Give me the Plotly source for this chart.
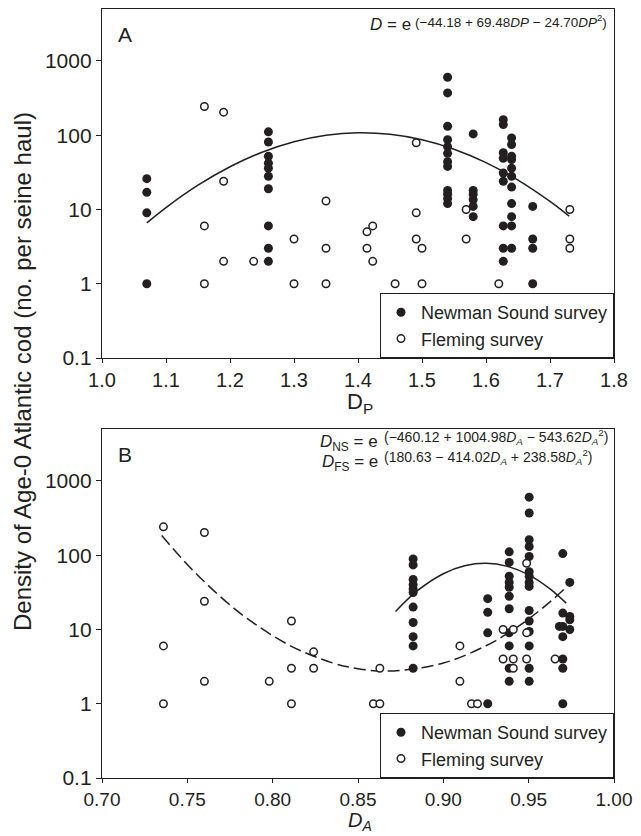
import plotly.graph_objects as go

# ---------------- Panel A data (D_P) ----------------
a_ns_x = [1.07]*4 + [1.26]*10 + [1.54]*12 + [1.58]*6 + [1.627]*9 + [1.64]*11 + [1.673]*4
a_ns_y = [26, 17, 9, 1,
          111, 81, 52, 42, 36, 28, 19, 6, 3, 2,
          603, 371, 132, 87, 70, 57, 44, 38, 18, 16, 14, 12,
          104, 18, 16, 13.5, 11, 8,
          162, 139, 58, 49, 24, 6, 3, 2, 31,
          92, 75, 52, 47, 36, 20, 12, 8, 6, 3, 28,
          11, 4, 3, 1]
a_fs_x = [1.16]*3 + [1.19]*3 + [1.237] + [1.30]*2 + [1.35]*3 + [1.414]*2 + [1.423]*2 + \
         [1.458] + [1.491]*3 + [1.50]*2 + [1.569]*2 + [1.62] + [1.731]*3
a_fs_y = [243, 6, 1,
          204, 24, 2,
          2,
          4, 1,
          13, 3, 1,
          5, 3,
          6, 2,
          1,
          79, 9, 4,
          3, 1,
          10, 4,
          1,
          10, 4, 3]
a_fit_x = [1.07, 1.10, 1.15, 1.20, 1.25, 1.30, 1.35, 1.40, 1.45, 1.50, 1.55, 1.60, 1.65, 1.70, 1.73]
a_fit_y = [6.59, 10.6, 21.2, 37.6, 58.9, 81.5, 99.7, 107.8, 102.9, 86.9, 64.8, 42.8, 24.9, 12.85, 8.13]

# ---------------- Panel B data (D_A) ----------------
b_ns_x = [0.8823]*11 + [0.926]*4 + [0.9386]*11 + [0.9503]*15 + [0.970]*7 + [0.968] + [0.9741]*4
b_ns_y = [89, 74, 47, 40, 35, 31.5, 20, 12.4, 8, 6, 3,
          26, 17, 9, 1,
          111, 80, 52, 43, 37, 28, 19, 9, 6, 3, 2,
          604, 370, 162, 131, 96, 60, 52, 43, 38, 18, 13, 9.4, 6, 3, 2,
          105, 16.6, 11, 8, 4, 3, 1,
          11,
          43, 15, 13.5, 10]
b_fs_x = [0.736]*3 + [0.760]*3 + [0.798] + [0.811]*3 + [0.824]*2 + [0.859] + [0.8628]*2 + \
         [0.9097]*2 + [0.9165] + [0.920] + [0.935]*2 + [0.941]*3 + [0.9488]*3 + [0.9655]
b_fs_y = [241, 6, 1,
          202, 24, 2,
          2,
          13, 3, 1,
          5, 3,
          1,
          3, 1,
          6, 2,
          1,
          1,
          10, 4,
          10, 4, 3,
          78, 9, 4,
          4]
b_nsfit_x = [0.872, 0.885, 0.90, 0.9125, 0.925, 0.9375, 0.95, 0.9625, 0.972]
b_nsfit_y = [17.5, 33.5, 56.3, 71.9, 77.6, 70.7, 54.3, 35.2, 22.6]
b_fsfit_x = [0.735, 0.7475, 0.76, 0.7725, 0.785, 0.81, 0.835, 0.85, 0.8677, 0.90, 0.925, 0.9375, 0.95, 0.9625, 0.972]
b_fsfit_y = [183.6, 86.3, 43.8, 23.9, 14.06, 6.09, 3.55, 2.966, 2.75, 3.53, 6.03, 8.81, 13.86, 23.5, 36.9]

y_tickvals = [0.1, 1, 10, 100, 1000]
y_ticktext = ["0.1", "1", "10", "100", "1000"]

INK = "#231f20"
FONT = "Liberation Sans, Arial, Helvetica, sans-serif"

filled = dict(symbol="circle", size=9, color=INK, line=dict(width=0))
hollow = dict(symbol="circle", size=7.5, color="white", line=dict(width=1.5, color=INK))

fig = go.Figure()

# Panel A
fig.add_trace(go.Scatter(x=a_fit_x, y=a_fit_y, mode="lines", line=dict(color=INK, width=1.5, shape="spline"),
                         showlegend=False, xaxis="x", yaxis="y"))
fig.add_trace(go.Scatter(x=a_ns_x, y=a_ns_y, mode="markers", marker=filled, name="Newman Sound survey",
                         xaxis="x", yaxis="y", legend="legend"))
fig.add_trace(go.Scatter(x=a_fs_x, y=a_fs_y, mode="markers", marker=hollow, name="Fleming survey",
                         xaxis="x", yaxis="y", legend="legend"))

# Panel B
fig.add_trace(go.Scatter(x=b_nsfit_x, y=b_nsfit_y, mode="lines", line=dict(color=INK, width=1.5, shape="spline"),
                         showlegend=False, xaxis="x2", yaxis="y2"))
fig.add_trace(go.Scatter(x=b_fsfit_x, y=b_fsfit_y, mode="lines",
                         line=dict(color=INK, width=1.5, shape="spline", dash="12px,5px"),
                         showlegend=False, xaxis="x2", yaxis="y2"))
fig.add_trace(go.Scatter(x=b_ns_x, y=b_ns_y, mode="markers", marker=filled, name="Newman Sound survey",
                         xaxis="x2", yaxis="y2", legend="legend2"))
fig.add_trace(go.Scatter(x=b_fs_x, y=b_fs_y, mode="markers", marker=hollow, name="Fleming survey",
                         xaxis="x2", yaxis="y2", legend="legend2"))

axis_common = dict(showline=True, linecolor=INK, linewidth=1.3, mirror=True, ticks="outside",
                   ticklen=5, tickwidth=1.3, tickcolor=INK, showgrid=False, zeroline=False,
                   tickfont=dict(family=FONT, size=21, color=INK))

# plot area: x 102..614, y 9..778
def py(p):
    return (778 - p) / 769.0

def px(p):
    return (p - 102) / 512.0

legend_style = dict(x=1, xanchor="right", bgcolor="white", bordercolor=INK, borderwidth=1,
                    font=dict(family=FONT, size=18, color=INK), itemwidth=30, tracegroupgap=0)

fig.update_layout(
    width=641, height=836,
    margin=dict(l=102, r=27, t=9, b=58),
    paper_bgcolor="white", plot_bgcolor="white",
    font=dict(family=FONT, color=INK),
    xaxis=dict(axis_common, domain=[0, 1], range=[1.0, 1.8], dtick=0.1, tick0=1.0, tickformat=".1f",
               anchor="y", tickfont=dict(family=FONT, size=20, color=INK), ticklen=4),
    yaxis=dict(axis_common, domain=[py(358), 1], type="log", range=[-1, 3.699],
               tickvals=y_tickvals, ticktext=y_ticktext, anchor="x"),
    xaxis2=dict(axis_common, domain=[0, 1], range=[0.70, 1.00], dtick=0.05, tick0=0.70, tickformat=".2f",
                anchor="y2", tickfont=dict(family=FONT, size=19, color=INK), ticklen=4),
    yaxis2=dict(axis_common, domain=[0, py(429)], type="log", range=[-1, 3.699],
                tickvals=y_tickvals, ticktext=y_ticktext, anchor="x2"),
    legend=dict(legend_style, y=py(358), yanchor="bottom"),
    legend2=dict(legend_style, y=0, yanchor="bottom"),
)

ann = []
def add(text, x, y, size, xanchor="center", yanchor="middle", angle=0):
    ann.append(dict(text=text, x=x, y=y, xref="paper", yref="paper", showarrow=False,
                    xanchor=xanchor, yanchor=yanchor, textangle=angle,
                    font=dict(family=FONT, size=size, color=INK)))

add("A", px(125), py(34), 21)
add("B", px(125), py(455), 21)
add("<i>D</i> = e", px(413), py(24), 17, xanchor="right")
add("(−44.18 + 69.48<i>DP</i> − 24.70<i>DP</i><sup>2</sup>)", px(413), py(21), 13.5, xanchor="left")
add("<i>D</i><sub>NS</sub> = e", px(380), py(443), 17, xanchor="right")
add("(−460.12 + 1004.98<i>D<sub>A</sub></i> − 543.62<i>D<sub>A</sub></i><sup>2</sup>)", px(382), py(437), 14, xanchor="left")
add("<i>D</i><sub>FS</sub> = e", px(380), py(463), 17, xanchor="right")
add("(180.63 − 414.02<i>D<sub>A</sub></i> + 238.58<i>D<sub>A</sub></i><sup>2</sup>)", px(382), py(457), 14, xanchor="left")
add("D<sub>P</sub>", px(360), py(403), 22)
add("<i>D<sub>A</sub></i>", px(360), py(836), 20, yanchor="bottom")
add("Density of Age-0 Atlantic cod (no. per seine haul)", px(22), py(372), 24, angle=-90)
fig.update_layout(annotations=ann)

fig.write_html("out.html")
